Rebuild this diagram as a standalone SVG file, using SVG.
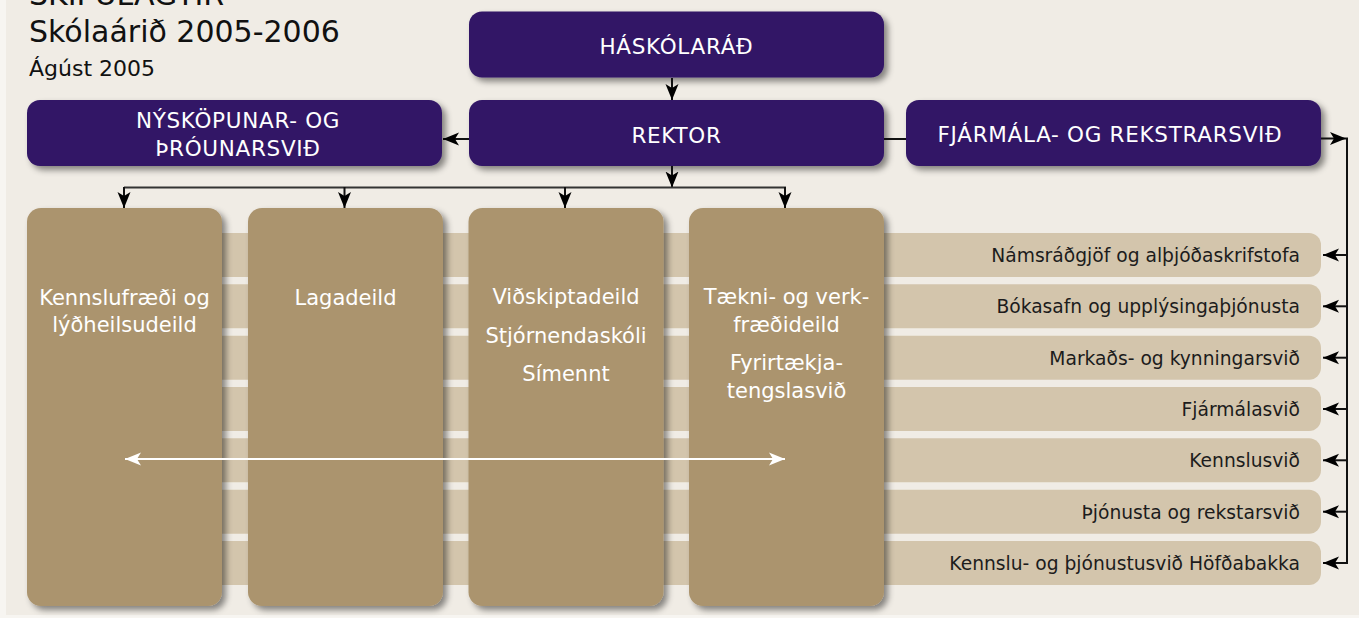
<svg xmlns="http://www.w3.org/2000/svg" width="1359" height="618" viewBox="0 0 1359 618">
<style>
.hdr{fill:#311666;}
.hdrt{font-family:"DejaVu Sans",sans-serif;font-size:21.5px;fill:#ffffff;text-anchor:middle;letter-spacing:0.7px;}
.col{fill:#ab946e;}
.colt{font-family:"DejaVu Sans",sans-serif;font-size:21px;fill:#ffffff;text-anchor:middle;}
.row{fill:#d3c5ac;}
.rowt{font-family:"DejaVu Sans",sans-serif;font-size:18.7px;fill:#1c1c1c;text-anchor:end;}
.title{font-family:"DejaVu Sans",sans-serif;fill:#111111;}
.ln{stroke:#111;stroke-width:2;fill:none;}
</style>
<defs>
<filter id="sh" x="-10%" y="-10%" width="130%" height="130%">
<feDropShadow dx="4" dy="4" stdDeviation="3" flood-color="#000" flood-opacity="0.45"/>
</filter>
<marker id="ah" viewBox="0 0 16 16" refX="16" refY="8" markerWidth="16" markerHeight="16" markerUnits="userSpaceOnUse" orient="auto">
<path d="M0,1.5 L16,8 L0,14.5 L4,8 z" fill="#000"/>
</marker>
<marker id="aw" viewBox="0 0 16 16" refX="16" refY="8" markerWidth="16" markerHeight="16" markerUnits="userSpaceOnUse" orient="auto-start-reverse">
<path d="M0,1.5 L16,8 L0,14.5 L4,8 z" fill="#fff"/>
</marker>
</defs>
<rect x="0" y="0" width="1359" height="618" fill="#f7f5f1"/>
<rect x="6" y="0" width="1353" height="615" fill="#f0ece5"/>

<g id="title">
<text class="title" x="29" y="5" font-size="30">SKIPULAGTIR</text>
<text class="title" x="29" y="42" font-size="30">Skólaárið 2005-2006</text>
<text class="title" x="29" y="76" font-size="22">Ágúst 2005</text>
</g>

<g id="rows">
<g id="row1"><rect class="row" x="205" y="233" width="1116" height="44" rx="12"/><text class="rowt" x="1300" y="262">Námsráðgjöf og alþjóðaskrifstofa</text></g>
<g id="row2"><rect class="row" x="205" y="284.3" width="1116" height="44" rx="12"/><text class="rowt" x="1300" y="313.3">Bókasafn og upplýsingaþjónusta</text></g>
<g id="row3"><rect class="row" x="205" y="335.7" width="1116" height="44" rx="12"/><text class="rowt" x="1300" y="364.7">Markaðs- og kynningarsvið</text></g>
<g id="row4"><rect class="row" x="205" y="387" width="1116" height="44" rx="12"/><text class="rowt" x="1300" y="416">Fjármálasvið</text></g>
<g id="row5"><rect class="row" x="205" y="438.3" width="1116" height="44" rx="12"/><text class="rowt" x="1300" y="467.3">Kennslusvið</text></g>
<g id="row6"><rect class="row" x="205" y="489.7" width="1116" height="44" rx="12"/><text class="rowt" x="1300" y="518.7">Þjónusta og rekstarsvið</text></g>
<g id="row7"><rect class="row" x="205" y="541" width="1116" height="44" rx="12"/><text class="rowt" x="1300" y="570">Kennslu- og þjónustusvið Höfðabakka</text></g>
</g>

<g id="haskolarad"><rect class="hdr" x="469" y="11.5" width="415" height="66" rx="13" filter="url(#sh)"/><text class="hdrt" x="676.5" y="54">HÁSKÓLARÁÐ</text></g>
<g id="rektor"><rect class="hdr" x="469" y="100" width="415" height="66" rx="13" filter="url(#sh)"/><text class="hdrt" x="676.5" y="142.5">REKTOR</text></g>
<g id="nyskopunar"><rect class="hdr" x="27" y="100" width="415" height="66" rx="13" filter="url(#sh)"/><text class="hdrt" x="238" y="128">NÝSKÖPUNAR- OG</text><text class="hdrt" x="238" y="156">ÞRÓUNARSVIÐ</text></g>
<g id="fjarmala"><rect class="hdr" x="906" y="100" width="415" height="66" rx="13" filter="url(#sh)"/><text class="hdrt" x="1110" y="142">FJÁRMÁLA- OG REKSTRARSVIÐ</text></g>

<g id="col1"><rect class="col" x="27" y="208" width="195" height="398" rx="14" filter="url(#sh)"/><text class="colt" x="124.5" y="305">Kennslufræði og</text><text class="colt" x="124.5" y="332">lýðheilsudeild</text></g>
<g id="col2"><rect class="col" x="248" y="208" width="195" height="398" rx="14" filter="url(#sh)"/><text class="colt" x="345.5" y="305">Lagadeild</text></g>
<g id="col3"><rect class="col" x="468.5" y="208" width="195" height="398" rx="14" filter="url(#sh)"/><text class="colt" x="566" y="304">Viðskiptadeild</text><text class="colt" x="566" y="342.5">Stjórnendaskóli</text><text class="colt" x="566" y="381">Símennt</text></g>
<g id="col4"><rect class="col" x="689" y="208" width="195" height="398" rx="14" filter="url(#sh)"/><text class="colt" x="786.5" y="304">Tækni- og verk-</text><text class="colt" x="786.5" y="332">fræðideild</text><text class="colt" x="786.5" y="370">Fyrirtækja-</text><text class="colt" x="786.5" y="398">tengslasvið</text></g>

<g id="connectors">
<line class="ln" x1="672" y1="78" x2="672" y2="100" marker-end="url(#ah)"/>
<line class="ln" x1="469" y1="139" x2="443" y2="139" marker-end="url(#ah)"/>
<line class="ln" x1="884" y1="139" x2="906" y2="139"/>
<line class="ln" x1="672" y1="166" x2="672" y2="187.5" marker-end="url(#ah)"/>
<line x1="124" y1="187.5" x2="786" y2="187.5" stroke="#333" stroke-width="2"/>
<line class="ln" x1="124" y1="187" x2="124" y2="208" marker-end="url(#ah)"/>
<line class="ln" x1="344.5" y1="187" x2="344.5" y2="208" marker-end="url(#ah)"/>
<line class="ln" x1="565" y1="187" x2="565" y2="208" marker-end="url(#ah)"/>
<line class="ln" x1="785" y1="187" x2="785" y2="208" marker-end="url(#ah)"/>
<line class="ln" x1="1321" y1="138.5" x2="1346" y2="138.5" marker-end="url(#ah)"/>
<line class="ln" x1="1347" y1="137.5" x2="1347" y2="564"/>
<line class="ln" x1="1348" y1="255" x2="1323" y2="255" marker-end="url(#ah)"/>
<line class="ln" x1="1348" y1="306.3" x2="1323" y2="306.3" marker-end="url(#ah)"/>
<line class="ln" x1="1348" y1="357.7" x2="1323" y2="357.7" marker-end="url(#ah)"/>
<line class="ln" x1="1348" y1="409" x2="1323" y2="409" marker-end="url(#ah)"/>
<line class="ln" x1="1348" y1="460.3" x2="1323" y2="460.3" marker-end="url(#ah)"/>
<line class="ln" x1="1348" y1="511.7" x2="1323" y2="511.7" marker-end="url(#ah)"/>
<line class="ln" x1="1348" y1="563" x2="1323" y2="563" marker-end="url(#ah)"/>
<line x1="125" y1="459" x2="785" y2="459" stroke="#fff" stroke-width="2" marker-start="url(#aw)" marker-end="url(#aw)"/>
</g>
</svg>
